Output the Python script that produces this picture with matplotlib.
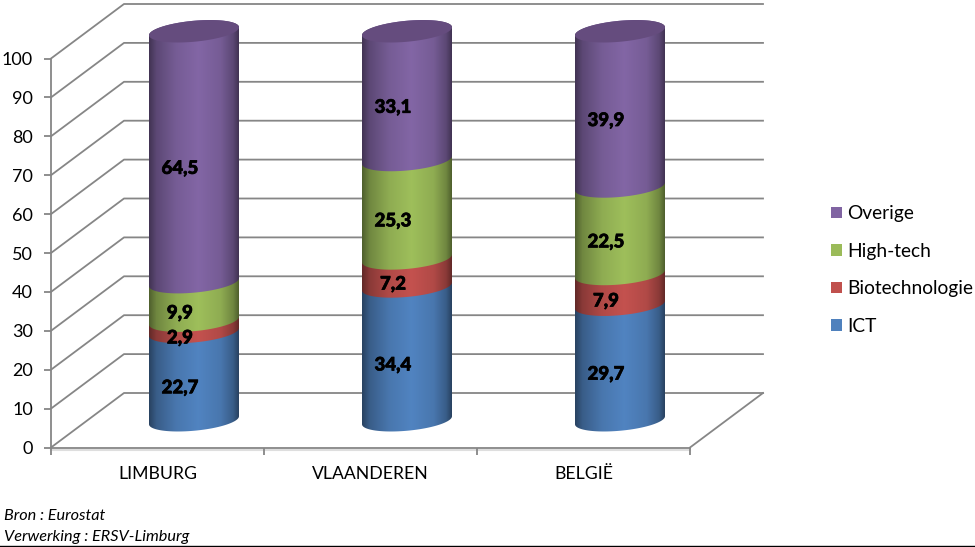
import numpy as np
import matplotlib
matplotlib.use("Agg")
import matplotlib.pyplot as plt
import matplotlib.patheffects as pe
from matplotlib.patches import Patch, Polygon

plt.rcParams['font.family'] = ['Lato', 'DejaVu Sans']

regions = ["LIMBURG", "VLAANDEREN", "BELGIË"]
series = ["ICT", "Biotechnologie", "High-tech", "Overige"]
ict = [22.7, 34.4, 29.7]
bio = [2.9, 7.2, 7.9]
hightech = [9.9, 25.3, 22.5]
overige = [64.5, 33.1, 39.9]
colors = ["#4f81bd", "#c0504d", "#9bbb59", "#8064a2"]
yticks = list(range(0, 101, 10))

W, H = 975, 547
fig = plt.figure(figsize=(W / 100, H / 100), dpi=100)
ax = fig.add_axes([51 / W, (H - 447.5) / H, 639 / W, 389 / H])
ax.set_xlim(0, 3)
ax.set_ylim(0, 100)

px_x = 213.0      # pixels per category
px_y = 3.89       # pixels per percent
dx = 73 / px_x    # depth of the 3d box
dy = 54.5 / px_y
grey = "#868686"

# walls and floor
for v in yticks:
    ax.plot([0, dx, 3 + dx], [v, v + dy, v + dy], color=grey, lw=1.3, clip_on=False, zorder=1)
ax.plot([3, 3 + dx], [0, dy], color=grey, lw=1.3, clip_on=False, zorder=1)
ax.plot([0, 3], [-0.6, -0.6], color="#dedede", lw=1.5, clip_on=False, zorder=1)

# cylinders
half_w = 45 / px_x
tilt = 4 / px_y
half_h = 10.5 / px_y
t = np.linspace(0, 2 * np.pi, 121)


def arc(cx, v, ts):
    return np.column_stack([cx + half_w * np.cos(ts), v + tilt * np.cos(ts) + half_h * np.sin(ts)])


def shade(col):
    base = np.array(matplotlib.colors.to_rgb(col))
    pos = np.linspace(0, 1, 90)
    f = np.interp(pos, [0, 0.08, 0.3, 0.55, 0.8, 0.94, 1], [0.52, 0.72, 0.92, 1.02, 0.92, 0.72, 0.52])
    return np.clip(base[None, None, :] * f[None, :, None], 0, 1)


for i, region in enumerate(regions):
    cx = i + 0.5 + dx / 2
    base = dy / 2
    cum = 0
    for vals, col in zip([ict, bio, hightech, overige], colors):
        v = vals[i]
        low, high = base + cum, base + cum + v
        lower = arc(cx, low, np.linspace(np.pi, 2 * np.pi, 60))
        upper = arc(cx, high, np.linspace(0, np.pi, 60))
        poly = Polygon(np.vstack([lower, upper]), closed=True, transform=ax.transData,
                       fc="none", ec="none", clip_on=False)
        ax.add_patch(poly)
        im = ax.imshow(shade(col), extent=[cx - half_w, cx + half_w, low - 5, high + 5],
                       aspect="auto", zorder=3, interpolation="bilinear")
        # images are cut to the axes box unless told otherwise
        im.set_clip_box(fig.bbox)
        im.set_clip_path(poly)
        ax.text(cx - 14 / px_x, base + cum + v / 2 - 3.0, f"{v:.1f}".replace(".", ","), ha="center", va="center",
                fontsize=13.4, fontweight=900, color="black", zorder=5,
                path_effects=[pe.withStroke(linewidth=0.5, foreground="black")])
        cum += v
    # lid
    lid = Polygon(arc(cx, base + cum, t), closed=True, fc="#654c7e", ec="none", zorder=4, clip_on=False)
    ax.add_patch(lid)

ax.set_xlim(0, 3)
ax.set_ylim(0, 100)

for s in ["top", "right"]:
    ax.spines[s].set_visible(False)
for s in ["left", "bottom"]:
    ax.spines[s].set_color(grey)
    ax.spines[s].set_linewidth(1.3)
ax.patch.set_alpha(0)
ax.set_yticks(yticks)
ax.set_xticks([0, 1, 2, 3])
ax.set_xticklabels([])
ax.set_xticks([0.5, 1.5, 2.5], labels=regions, minor=True)
ax.tick_params(axis="both", which="major", color=grey, width=1.3, length=5)
ax.tick_params(axis="x", which="minor", length=0, pad=13, labelsize=12.7)
ax.tick_params(axis="y", labelsize=13, pad=8, labelcolor="black")

handles = [Patch(fc=c, ec="none") for c in colors[::-1]]
fig.legend(handles, series[::-1], loc="center left", bbox_to_anchor=(831 / W, (H - 270) / H),
           frameon=False, fontsize=13.8, labelspacing=1.07, handlelength=0.58, handleheight=0.58,
           handletextpad=0.27, borderaxespad=0, borderpad=0)

fig.text(4 / W, (H - 515.5) / H, "Bron : Eurostat", style="italic", fontsize=11.7, va="center")
fig.text(4 / W, (H - 536.5) / H, "Verwerking : ERSV-Limburg", style="italic", fontsize=11.7, va="center")
fig.add_artist(plt.Line2D([0, 1], [1.2 / H, 1.2 / H], color="black", lw=1.0, transform=fig.transFigure))

fig.savefig("out.png", dpi=100)
